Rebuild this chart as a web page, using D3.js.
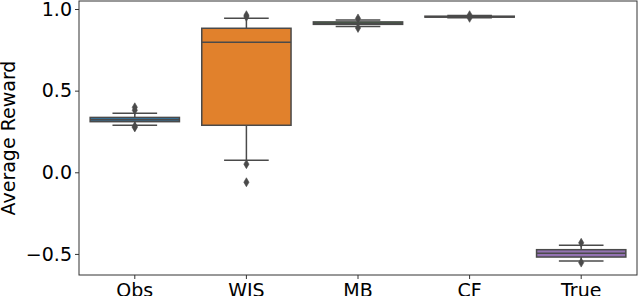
<!DOCTYPE html>
<html lang="en">
<head>
<meta charset="UTF-8">
<title>Average Reward box plot</title>
<script src="https://d3js.org/d3.v7.min.js"></script>
<style>
    body { margin: 0; padding: 0; background: #fff; }
    svg { display: block; }
    text { font-family: "DejaVu Sans", sans-serif; fill: #000; }
</style>
</head>
<body>
<svg id="chart" width="640" height="296"></svg>
<script>
    // box statistics
    const categories = ["Obs", "WIS", "MB", "CF", "True"];
    const colors = ["#3274a1", "#e1812c", "#3a923a", "#c03d3e", "#9372b2"];
    const q1 = [0.310, 0.288, 0.906, 0.950, -0.519];
    const median = [0.322, 0.796, 0.913, 0.953, -0.496];
    const q3 = [0.336, 0.882, 0.921, 0.956, -0.474];
    const whiskLow = [0.288, 0.073, 0.893, 0.946, -0.543];
    const whiskHigh = [0.362, 0.943, 0.932, 0.960, -0.447];
    const outliers = [
        [0.398, 0.380, 0.275, 0.282],
        [0.962, 0.952, 0.050, -0.061],
        [0.942, 0.884],
        [0.962, 0.946],
        [-0.432, -0.553]
    ];
    const yTicks = [-0.5, 0.0, 0.5, 1.0];

    const svg = d3.select("#chart");
    const margin = { top: 1, right: 3, bottom: 21, left: 79 };
    const width = 640 - margin.left - margin.right;
    const height = 296 - margin.top - margin.bottom;
    const lineColor = "#4a4a4a";
    const fontSize = "19px";

    const x = d3.scaleBand().domain(categories).range([0, width]).paddingInner(0).paddingOuter(0);
    const y = d3.scaleLinear().domain([-0.629, 1.049]).range([height, 0]);

    const g = svg.append("g").attr("transform", `translate(${margin.left},${margin.top})`);

    const boxW = x.bandwidth() * 0.8;

    categories.forEach(function (c, i) {
        const cx = x(c) + x.bandwidth() / 2;
        const grp = g.append("g");
        // whiskers
        grp.append("line")
            .attr("x1", cx).attr("x2", cx)
            .attr("y1", y(q3[i])).attr("y2", y(whiskHigh[i]))
            .attr("stroke", lineColor).attr("stroke-width", 1.5);
        grp.append("line")
            .attr("x1", cx).attr("x2", cx)
            .attr("y1", y(q1[i])).attr("y2", y(whiskLow[i]))
            .attr("stroke", lineColor).attr("stroke-width", 1.5);
        [whiskLow[i], whiskHigh[i]].forEach(function (v) {
            grp.append("line")
                .attr("x1", cx - boxW / 4).attr("x2", cx + boxW / 4)
                .attr("y1", y(v)).attr("y2", y(v))
                .attr("stroke", lineColor).attr("stroke-width", 1.5);
        });
        // box
        grp.append("rect")
            .attr("x", cx - boxW / 2).attr("width", boxW)
            .attr("y", y(q3[i])).attr("height", Math.max(0.5, y(q1[i]) - y(q3[i])))
            .attr("fill", colors[i])
            .attr("stroke", lineColor).attr("stroke-width", 1.5);
        grp.append("line")
            .attr("x1", cx - boxW / 2).attr("x2", cx + boxW / 2)
            .attr("y1", y(median[i])).attr("y2", y(median[i]))
            .attr("stroke", lineColor).attr("stroke-width", 1.5);
        // outliers (thin diamonds)
        grp.selectAll("path.out")
            .data(outliers[i])
            .enter().append("path")
            .attr("class", "out")
            .attr("d", "M0,-4.5L2.6,0L0,4.5L-2.6,0Z")
            .attr("transform", d => `translate(${cx},${y(d)})`)
            .attr("fill", lineColor)
            .attr("stroke", lineColor).attr("stroke-width", 0.6);
    });

    // axes
    const yAxis = g.append("g")
        .call(d3.axisLeft(y).tickValues(yTicks).tickFormat(d => d3.format(".1f")(d).replace("-", "\u2212")).tickSize(4).tickPadding(3));
    const xAxis = g.append("g")
        .attr("transform", `translate(0,${height})`)
        .call(d3.axisBottom(x).tickSize(4).tickPadding(5));
    [yAxis, xAxis].forEach(function (a) {
        a.select(".domain").remove();
        a.selectAll(".tick line").attr("stroke", "#333").attr("stroke-width", 1);
        a.selectAll(".tick text").style("font-size", fontSize).attr("fill", "#000");
    });

    // frame
    g.append("rect")
        .attr("x", 0).attr("y", 0).attr("width", width).attr("height", height)
        .attr("fill", "none").attr("stroke", "#333").attr("stroke-width", 1);

    svg.append("text")
        .attr("transform", `translate(15,${margin.top + 137}) rotate(-90)`)
        .attr("text-anchor", "middle")
        .style("font-size", fontSize)
        .text("Average Reward");
</script>
</body>
</html>
